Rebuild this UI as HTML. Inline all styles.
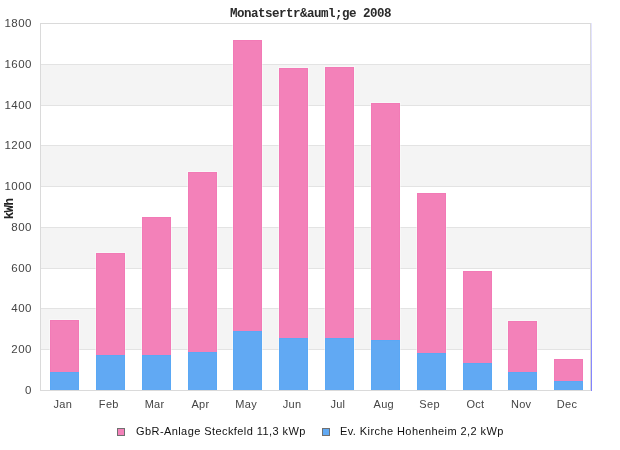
<!DOCTYPE html>
<html><head><meta charset="utf-8"><style>
html,body{margin:0;padding:0;background:#fff;width:620px;height:450px;overflow:hidden;position:relative}
div{position:absolute}
.txt{position:absolute;left:0;top:0;width:620px;height:450px;will-change:transform}
.t{font-family:"Liberation Sans",sans-serif;}
.yl{font-family:"Liberation Sans",sans-serif;font-size:11.5px;color:#444;right:588px;text-align:right;line-height:14px;height:14px;white-space:nowrap;letter-spacing:0.5px}
.xl{font-family:"Liberation Sans",sans-serif;font-size:11px;color:#444;top:397px;width:50px;text-align:center;line-height:14px;white-space:nowrap;letter-spacing:0.3px}
.title{font-family:"Liberation Mono",monospace;font-weight:bold;font-size:12.5px;letter-spacing:-0.5px;color:#2a2a2a;left:230px;top:7px;line-height:14px;white-space:nowrap}
.ylab{font-family:"Liberation Mono",monospace;font-weight:bold;font-size:12.5px;color:#222;left:-10.5px;top:202px;letter-spacing:-0.6px;width:40px;text-align:center;line-height:14px;transform:rotate(-90deg);white-space:nowrap}
.lg{font-family:"Liberation Sans",sans-serif;font-size:11px;color:#111;top:424px;letter-spacing:0.42px;line-height:14px;white-space:nowrap}
.sq{width:6px;height:6px;border:1px solid #707070;}
</style></head><body>
<div style="left:40px;top:308px;width:550px;height:41px;background:#f4f4f4;"></div><div style="left:40px;top:227px;width:550px;height:41px;background:#f4f4f4;"></div><div style="left:40px;top:145px;width:550px;height:41px;background:#f4f4f4;"></div><div style="left:40px;top:64px;width:550px;height:41px;background:#f4f4f4;"></div><div style="left:40px;top:390px;width:550px;height:1px;background:#e3e3e3;"></div><div style="left:40px;top:349px;width:550px;height:1px;background:#e3e3e3;"></div><div style="left:40px;top:308px;width:550px;height:1px;background:#e3e3e3;"></div><div style="left:40px;top:268px;width:550px;height:1px;background:#e3e3e3;"></div><div style="left:40px;top:227px;width:550px;height:1px;background:#e3e3e3;"></div><div style="left:40px;top:186px;width:550px;height:1px;background:#e3e3e3;"></div><div style="left:40px;top:145px;width:550px;height:1px;background:#e3e3e3;"></div><div style="left:40px;top:105px;width:550px;height:1px;background:#e3e3e3;"></div><div style="left:40px;top:64px;width:550px;height:1px;background:#e3e3e3;"></div><div style="left:40px;top:23px;width:550px;height:1px;background:#e3e3e3;"></div><div style="left:40px;top:23px;width:1px;height:368px;background:#dadada;"></div><div style="left:590px;top:23px;width:1px;height:368px;background:#dadada;"></div><div style="left:40px;top:23px;width:551px;height:1px;background:#dadada;"></div><div style="left:40px;top:390px;width:551px;height:1px;background:#dadada;"></div><div style="left:591px;top:23px;width:1px;height:368px;background:linear-gradient(#e6e6ff,#8080ff);"></div><div style="left:49px;top:319px;width:31px;height:70px;background:rgba(255,255,255,0.4);"></div><div style="left:50px;top:320px;width:29px;height:52px;background:#f27ab6;"></div><div style="left:51px;top:321px;width:27px;height:51px;background:#f381b9;"></div><div style="left:50px;top:372px;width:29px;height:18px;background:#5aa8f5;"></div><div style="left:51px;top:373px;width:27px;height:17px;background:#61a9f3;"></div><div style="left:95px;top:252px;width:31px;height:137px;background:rgba(255,255,255,0.4);"></div><div style="left:96px;top:253px;width:29px;height:102px;background:#f27ab6;"></div><div style="left:97px;top:254px;width:27px;height:101px;background:#f381b9;"></div><div style="left:96px;top:355px;width:29px;height:35px;background:#5aa8f5;"></div><div style="left:97px;top:356px;width:27px;height:34px;background:#61a9f3;"></div><div style="left:141px;top:216px;width:31px;height:173px;background:rgba(255,255,255,0.4);"></div><div style="left:142px;top:217px;width:29px;height:138px;background:#f27ab6;"></div><div style="left:143px;top:218px;width:27px;height:137px;background:#f381b9;"></div><div style="left:142px;top:355px;width:29px;height:35px;background:#5aa8f5;"></div><div style="left:143px;top:356px;width:27px;height:34px;background:#61a9f3;"></div><div style="left:187px;top:171px;width:31px;height:218px;background:rgba(255,255,255,0.4);"></div><div style="left:188px;top:172px;width:29px;height:180px;background:#f27ab6;"></div><div style="left:189px;top:173px;width:27px;height:179px;background:#f381b9;"></div><div style="left:188px;top:352px;width:29px;height:38px;background:#5aa8f5;"></div><div style="left:189px;top:353px;width:27px;height:37px;background:#61a9f3;"></div><div style="left:232px;top:39px;width:31px;height:350px;background:rgba(255,255,255,0.4);"></div><div style="left:233px;top:40px;width:29px;height:291px;background:#f27ab6;"></div><div style="left:234px;top:41px;width:27px;height:290px;background:#f381b9;"></div><div style="left:233px;top:331px;width:29px;height:59px;background:#5aa8f5;"></div><div style="left:234px;top:332px;width:27px;height:58px;background:#61a9f3;"></div><div style="left:278px;top:67px;width:31px;height:322px;background:rgba(255,255,255,0.4);"></div><div style="left:279px;top:68px;width:29px;height:270px;background:#f27ab6;"></div><div style="left:280px;top:69px;width:27px;height:269px;background:#f381b9;"></div><div style="left:279px;top:338px;width:29px;height:52px;background:#5aa8f5;"></div><div style="left:280px;top:339px;width:27px;height:51px;background:#61a9f3;"></div><div style="left:324px;top:66px;width:31px;height:323px;background:rgba(255,255,255,0.4);"></div><div style="left:325px;top:67px;width:29px;height:271px;background:#f27ab6;"></div><div style="left:326px;top:68px;width:27px;height:270px;background:#f381b9;"></div><div style="left:325px;top:338px;width:29px;height:52px;background:#5aa8f5;"></div><div style="left:326px;top:339px;width:27px;height:51px;background:#61a9f3;"></div><div style="left:370px;top:102px;width:31px;height:287px;background:rgba(255,255,255,0.4);"></div><div style="left:371px;top:103px;width:29px;height:237px;background:#f27ab6;"></div><div style="left:372px;top:104px;width:27px;height:236px;background:#f381b9;"></div><div style="left:371px;top:340px;width:29px;height:50px;background:#5aa8f5;"></div><div style="left:372px;top:341px;width:27px;height:49px;background:#61a9f3;"></div><div style="left:416px;top:192px;width:31px;height:197px;background:rgba(255,255,255,0.4);"></div><div style="left:417px;top:193px;width:29px;height:160px;background:#f27ab6;"></div><div style="left:418px;top:194px;width:27px;height:159px;background:#f381b9;"></div><div style="left:417px;top:353px;width:29px;height:37px;background:#5aa8f5;"></div><div style="left:418px;top:354px;width:27px;height:36px;background:#61a9f3;"></div><div style="left:462px;top:270px;width:31px;height:119px;background:rgba(255,255,255,0.4);"></div><div style="left:463px;top:271px;width:29px;height:92px;background:#f27ab6;"></div><div style="left:464px;top:272px;width:27px;height:91px;background:#f381b9;"></div><div style="left:463px;top:363px;width:29px;height:27px;background:#5aa8f5;"></div><div style="left:464px;top:364px;width:27px;height:26px;background:#61a9f3;"></div><div style="left:507px;top:320px;width:31px;height:69px;background:rgba(255,255,255,0.4);"></div><div style="left:508px;top:321px;width:29px;height:51px;background:#f27ab6;"></div><div style="left:509px;top:322px;width:27px;height:50px;background:#f381b9;"></div><div style="left:508px;top:372px;width:29px;height:18px;background:#5aa8f5;"></div><div style="left:509px;top:373px;width:27px;height:17px;background:#61a9f3;"></div><div style="left:553px;top:358px;width:31px;height:31px;background:rgba(255,255,255,0.4);"></div><div style="left:554px;top:359px;width:29px;height:22px;background:#f27ab6;"></div><div style="left:555px;top:360px;width:27px;height:21px;background:#f381b9;"></div><div style="left:554px;top:381px;width:29px;height:9px;background:#5aa8f5;"></div><div style="left:555px;top:382px;width:27px;height:8px;background:#61a9f3;"></div>
<div class="txt">
<div class="yl" style="top:383px">0</div><div class="yl" style="top:342px">200</div><div class="yl" style="top:301px">400</div><div class="yl" style="top:261px">600</div><div class="yl" style="top:220px">800</div><div class="yl" style="top:179px">1000</div><div class="yl" style="top:138px">1200</div><div class="yl" style="top:98px">1400</div><div class="yl" style="top:57px">1600</div><div class="yl" style="top:16px">1800</div>
<div class="xl" style="left:37.9px">Jan</div><div class="xl" style="left:83.8px">Feb</div><div class="xl" style="left:129.6px">Mar</div><div class="xl" style="left:175.4px">Apr</div><div class="xl" style="left:221.2px">May</div><div class="xl" style="left:267.1px">Jun</div><div class="xl" style="left:312.9px">Jul</div><div class="xl" style="left:358.8px">Aug</div><div class="xl" style="left:404.6px">Sep</div><div class="xl" style="left:450.4px">Oct</div><div class="xl" style="left:496.2px">Nov</div><div class="xl" style="left:542.1px">Dec</div>
<div class="title">Monatsertr&amp;auml;ge 2008</div>
<div class="ylab">kWh</div>
<div class="sq" style="left:117px;top:428px;background:#f381b9"></div>
<div class="lg" style="left:136px">GbR-Anlage Steckfeld 11,3 kWp</div>
<div class="sq" style="left:322px;top:428px;background:#61a9f3"></div>
<div class="lg" style="left:340px">Ev. Kirche Hohenheim 2,2 kWp</div>
</div>
</body></html>
